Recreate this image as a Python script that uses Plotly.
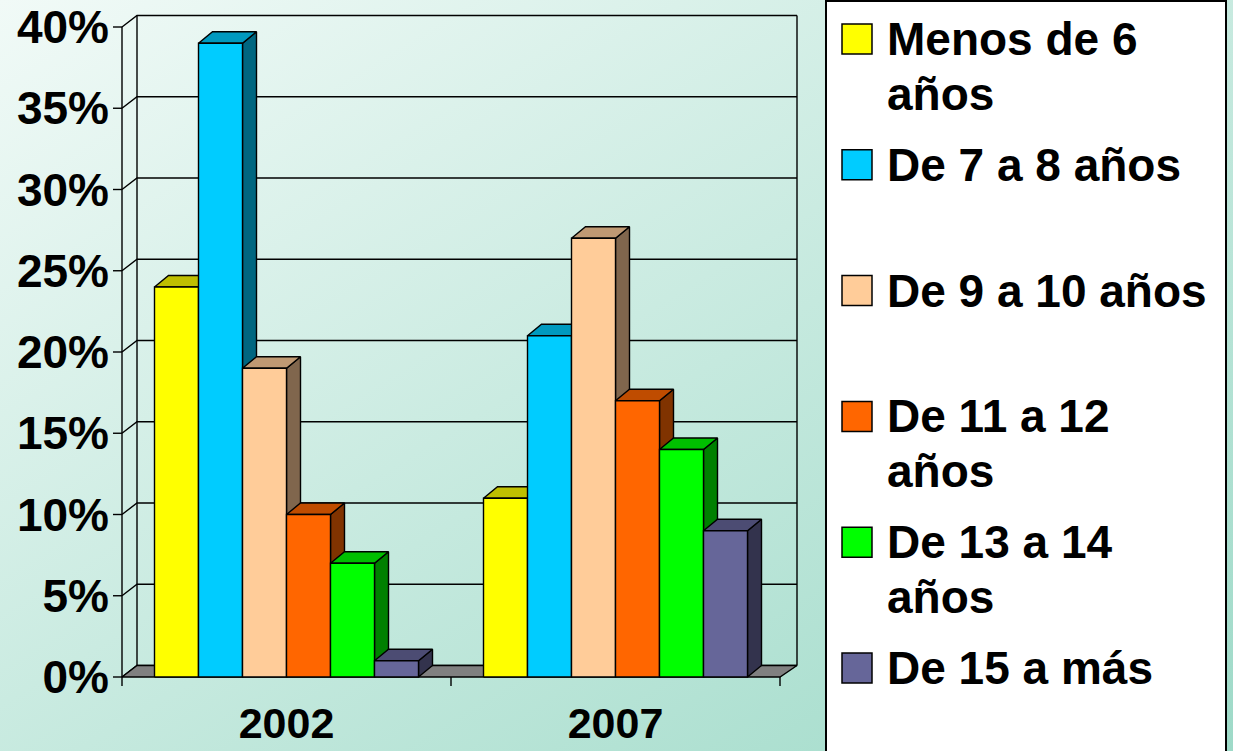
import base64
import plotly.graph_objects as go

# ---------------- data ----------------
categories = ["2002", "2007"]
series_names = ["Menos de 6<br>años", "De 7 a 8 años", "De 9 a 10 años",
                "De 11 a 12<br>años", "De 13 a 14<br>años", "De 15 a más"]
menos_6 = [24, 11]
de_7_a_8 = [39, 21]
de_9_a_10 = [19, 27]
de_11_a_12 = [10, 17]
de_13_a_14 = [7, 14]
de_15_a_mas = [1, 9]
series_values = [menos_6, de_7_a_8, de_9_a_10, de_11_a_12, de_13_a_14, de_15_a_mas]
y_ticks = [0, 5, 10, 15, 20, 25, 30, 35, 40]
y_tick_labels = [f"{v}%" for v in y_ticks]

# ---------------- style ----------------
front_colors = ["#FFFF00", "#00CCFF", "#FFCC99", "#FF6600", "#00FF00", "#666699"]
top_colors = ["#BFBF00", "#0099BF", "#BF9973", "#BF4C00", "#00BF00", "#4C4C73"]
side_colors = ["#808000", "#006680", "#80664D", "#803300", "#008000", "#33334D"]
FONT = "Liberation Sans, Arial, sans-serif"
LW = 1.4

W, H = 1233, 751
ML, MR, MT, MB = 110, 428, 8, 59
PW, PH = W - ML - MR, H - MT - MB

# pixel geometry of the front plane
X0_PX = 122          # front left edge (category boundary -0.5)
PX_PER_CAT = 329.0
Y0_PX = 677          # front 0 %
PX_PER_PCT = 16.25

def dxu(px):
    return px / PX_PER_CAT

def dyu(px):
    return px / PX_PER_PCT

x_range = [(ML - X0_PX) / PX_PER_CAT - 0.5, (ML + PW - X0_PX) / PX_PER_CAT - 0.5]
y_range = [(Y0_PX - (MT + PH)) / PX_PER_PCT, (Y0_PX - MT) / PX_PER_PCT]

WDXL, WDXR, WDY = dxu(15), dxu(17), dyu(11.5)   # wall depth
BDX, BDY = dxu(14), dyu(11.5)                   # bar depth
BW = dxu(44)                                    # bar width

ncat = len(categories)
x_left = -0.5
x_right = ncat - 0.5
y_max = max(y_ticks)

fig = go.Figure()

def poly_trace(xs, ys, fill=None, color="black", width=LW):
    kw = dict(x=xs, y=ys, mode="lines", line=dict(color=color, width=width),
              hoverinfo="skip", showlegend=False)
    if fill:
        kw.update(fill="toself", fillcolor=fill)
    return go.Scatter(**kw)

# walls: grid lines on back wall + side wall diagonals
gx, gy = [], []
for v in y_ticks:
    gx += [x_left, x_left + WDXL, x_right + WDXR, None]
    gy += [v, v + WDY, v + WDY, None]
for xb in (x_left + WDXL, x_right + WDXR):
    gx += [xb, xb, None]
    gy += [WDY, y_max + WDY, None]
fig.add_trace(poly_trace(gx, gy))

# floor
fig.add_trace(poly_trace(
    [x_left, x_right, x_right + WDXR, x_left + WDXL, x_left],
    [0, 0, WDY, WDY, 0], fill="#808080"))

# bars (3D: side, top, front)
nser = len(series_values)
for i, vals in enumerate(series_values):
    sx, sy, tx, ty, fx, fy = [], [], [], [], [], []
    for j, v in enumerate(vals):
        xl = j + (i - nser / 2) * BW
        xr = xl + BW
        sx += [xr, xr + BDX, xr + BDX, xr, xr, None]
        sy += [0, BDY, v + BDY, v, 0, None]
        tx += [xl, xr, xr + BDX, xl + BDX, xl, None]
        ty += [v, v, v + BDY, v + BDY, v, None]
        fx += [xl, xr, xr, xl, xl, None]
        fy += [0, 0, v, v, 0, None]
    fig.add_trace(poly_trace(sx, sy, fill=side_colors[i]))
    fig.add_trace(poly_trace(tx, ty, fill=top_colors[i]))
    fig.add_trace(poly_trace(fx, fy, fill=front_colors[i]))

# front value axis + tick marks
ax, ay = [x_left, x_left, None], [0, y_max, None]
for v in y_ticks:
    ax += [x_left - dxu(9), x_left, None]
    ay += [v, v, None]
for k in range(ncat + 1):
    b = k - 0.5
    ax += [b, b, None]
    ay += [0, -dyu(9), None]
fig.add_trace(poly_trace(ax, ay))

# ---------------- background gradient ----------------
svg = (f'<svg xmlns="http://www.w3.org/2000/svg" width="{W}" height="{H}" '
       f'viewBox="0 0 {W} {H}" preserveAspectRatio="none"><defs>'
       '<linearGradient id="g" x1="0" y1="0" x2="1" y2="1">'
       '<stop offset="0" stop-color="#f1faf7"/><stop offset="1" stop-color="#9edac8"/>'
       f'</linearGradient></defs><rect width="{W}" height="{H}" fill="url(#g)"/></svg>')
src = "data:image/svg+xml;base64," + base64.b64encode(svg.encode()).decode()

def px(xp):
    return (xp - ML) / PW

def py(yp):
    return (MT + PH - yp) / PH

images = [dict(source=src, xref="paper", yref="paper", x=px(0), y=py(0),
               sizex=W / PW, sizey=H / PH, xanchor="left", yanchor="top",
               sizing="stretch", layer="below")]

# ---------------- legend box ----------------
shapes = [dict(type="rect", xref="paper", yref="paper",
               x0=px(826), x1=px(1226), y0=py(1), y1=py(H + 10),
               fillcolor="white", line=dict(color="black", width=2), layer="above")]
annotations = []
LEG_TOP0, LEG_STEP, SW = 24, 125.8, 30
LEG_FS = 46
for i, name in enumerate(series_names):
    top = LEG_TOP0 + i * LEG_STEP
    shapes.append(dict(type="rect", xref="paper", yref="paper",
                       x0=px(842), x1=px(842 + SW), y0=py(top), y1=py(top + SW),
                       fillcolor=front_colors[i], line=dict(color="black", width=1.5),
                       layer="above"))
    for li, line in enumerate(name.split("<br>")):
        base = top + 31 + li * 55
        annotations.append(dict(text=line, xref="paper", yref="paper",
                                x=px(885), y=py(base - 0.3465 * LEG_FS),
                                xanchor="left", yanchor="middle", showarrow=False,
                                font=dict(family=FONT, size=LEG_FS, color="black",
                                          weight="bold")))

fig.update_layout(
    width=W, height=H,
    margin=dict(l=ML, r=MR, t=MT, b=MB, pad=0, autoexpand=False),
    paper_bgcolor="#c8ebe0", plot_bgcolor="rgba(0,0,0,0)",
    showlegend=False,
    images=images, shapes=shapes, annotations=annotations,
    xaxis=dict(range=x_range, tickvals=list(range(ncat)), ticktext=categories,
               showgrid=False, zeroline=False, showline=False, ticks="",
               ticklabelstandoff=2, automargin=False,
               tickfont=dict(family=FONT, size=43, color="black", weight="bold"),
               fixedrange=True),
    yaxis=dict(range=y_range, tickvals=y_ticks, ticktext=y_tick_labels,
               showgrid=False, zeroline=False, showline=False, ticks="",
               ticklabelstandoff=0, automargin=False,
               tickfont=dict(family=FONT, size=46, color="black", weight="bold"),
               fixedrange=True),
)

fig.write_html("out.html", config={"displayModeBar": False})

# remove the browser's default page margin so the figure sits at (0, 0)
with open("out.html", "r", encoding="utf-8") as f:
    html = f.read()
html = html.replace("<head>", "<head><style>html,body{margin:0;padding:0;overflow:hidden}</style>", 1)
with open("out.html", "w", encoding="utf-8") as f:
    f.write(html)
